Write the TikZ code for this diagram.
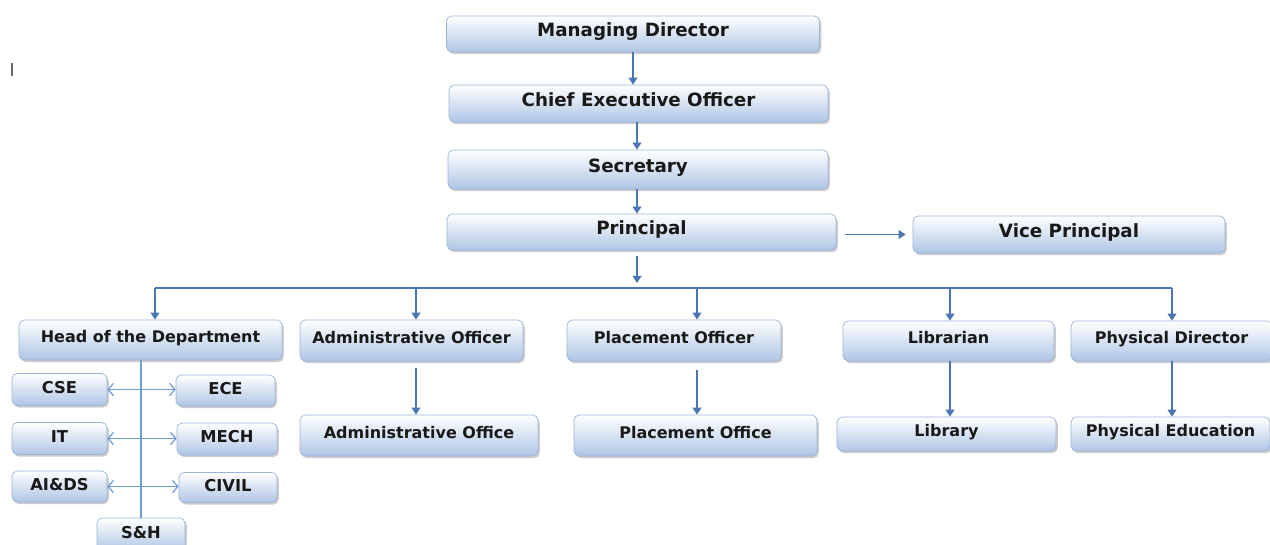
\documentclass[tikz,border=0pt]{standalone}
\usepackage{fontspec}
\setmainfont{DejaVu Sans}
\usetikzlibrary{arrows.meta, shadows, calc}
\definecolor{boxline}{HTML}{9AB5DA}
\definecolor{boxfill}{HTML}{AFC5E5}
\definecolor{linkblue}{HTML}{4A77B4}
\definecolor{barbblue}{HTML}{6F9BD6}
\tikzset{
    rank/.style  = {draw=boxline, rectangle, rounded corners=3pt, top color=white, bottom color=boxfill, text centered, text height=7pt, text depth=3.6pt, font=\fontsize{10.4}{12}\selectfont\bfseries, text=black!90, drop shadow={shadow xshift=1pt, shadow yshift=-1.2pt, fill=black!40}},
    unit/.style  = {rank, font=\fontsize{9.1}{11}\selectfont\bfseries},
    dept/.style  = {rank, minimum width=1.9cm, minimum height=0.64cm, text depth=2.6pt, font=\fontsize{9.3}{11}\selectfont\bfseries},
    link/.style  = {draw=linkblue, line width=0.8pt, -{Triangle[length=4pt, width=5pt]}},
    both/.style  = {draw=barbblue, line width=0.7pt, {Straight Barb[length=3pt, width=7pt]}-{Straight Barb[length=3pt, width=7pt]}},
}

\begin{document}
\begin{tikzpicture}
  \useasboundingbox (0,0) rectangle (25.4,-10.88);
  % stray caret mark
  \draw[black!60, line width=0.6pt] (0.24,-1.25) -- (0.24,-1.51);

  % top of the ladder
  \node [name=md,   rank, minimum width=7.46cm, minimum height=0.72cm] at (12.66,-0.68) {Managing Director};
  \node [name=ceo,  rank, minimum width=7.58cm, minimum height=0.74cm] at (12.77,-2.07) {Chief Executive Officer};
  \node [name=sec,  rank, minimum width=7.60cm, minimum height=0.78cm] at (12.76,-3.39) {Secretary};
  \node [name=prin, rank, minimum width=7.78cm, minimum height=0.72cm] at (12.83,-4.64) {Principal};
  \node [name=vp,   rank, minimum width=6.24cm, minimum height=0.74cm] at (21.38,-4.69) {Vice Principal};

  % officers
  \node [name=hod, unit, minimum width=5.26cm, minimum height=0.80cm] at (3.01,-6.80)  {Head of the Department};
  \node [name=ao,  unit, minimum width=4.46cm, minimum height=0.82cm] at (8.23,-6.81)  {Administrative Officer};
  \node [name=po,  unit, minimum width=4.28cm, minimum height=0.82cm] at (13.48,-6.81) {Placement Officer};
  \node [name=lib, unit, minimum width=4.22cm, minimum height=0.80cm] at (18.97,-6.82) {Librarian};
  \node [name=pd,  unit, minimum width=4.02cm, minimum height=0.80cm] at (23.43,-6.82) {Physical Director};

  % offices
  \node [name=aoff, unit, minimum width=4.76cm, minimum height=0.82cm] at (8.38,-8.71)  {Administrative Office};
  \node [name=poff, unit, minimum width=4.86cm, minimum height=0.82cm] at (13.91,-8.71) {Placement Office};
  \node [name=lbry, unit, minimum width=4.38cm, minimum height=0.68cm] at (18.93,-8.68) {Library};
  \node [name=pe,   unit, minimum width=3.98cm, minimum height=0.68cm] at (23.41,-8.68) {Physical Education};

  % departments
  \node [name=cse,   dept] at (1.19,-7.79) {CSE};
  \node [name=ece,   dept, minimum width=1.98cm, minimum height=0.62cm] at (4.51,-7.81) {ECE};
  \node [name=it,    dept] at (1.19,-8.77) {IT};
  \node [name=mech,  dept, minimum width=2.0cm] at (4.54,-8.78) {MECH};
  \node [name=aids,  dept, minimum height=0.62cm] at (1.19,-9.73) {AI\&DS};
  \node [name=civil, dept, minimum width=1.96cm, minimum height=0.60cm] at (4.56,-9.75) {CIVIL};
  \node [name=sh,    dept, minimum width=1.76cm, minimum height=0.66cm] at (2.82,-10.69) {S\&H};

  % bus under the principal
  \coordinate (bp) at (12.74,-5.76);
  \coordinate (b1) at (3.10,-5.76);
  \coordinate (b2) at (8.32,-5.76);
  \coordinate (b3) at (13.94,-5.76);
  \coordinate (b4) at (19.00,-5.76);
  \coordinate (b5) at (23.44,-5.76);
  \draw [draw=linkblue, line width=0.8pt] (b1) -- (b5);

  \draw [link] (md.south) -- (md.south |- ceo.north);
  \draw [link] (bp |- ceo.south) -- (bp |- sec.north);
  \draw [link] (bp |- sec.south) -- (bp |- prin.north);
  \draw [link, shorten <=3pt] (bp |- prin.south) -- ($(bp)+(0,0.1)$);
  \draw [link, shorten <=5pt, shorten >=4pt] (vp.west -| prin.east) -- (vp.west);

  \foreach \b/\n in {b1/hod, b2/ao, b3/po, b4/lib, b5/pd}
    \draw [link] (\b) -- (\b |- \n.north);

  \draw [link, shorten <=4pt] (b2 |- ao.south) -- (b2 |- aoff.north);
  \draw [link, shorten <=5pt] (b3 |- po.south) -- (b3 |- poff.north);
  \draw [link] (b4 |- lib.south) -- (b4 |- lbry.north);
  \draw [link] (b5 |- pd.south) -- (b5 |- pe.north);

  % department wiring
  \draw [draw=barbblue, line width=0.8pt] (sh.north |- hod.south) -- (sh.north);
  \draw [both] (cse.east) -- (cse.east -| ece.west);
  \draw [both] (it.east) -- (it.east -| mech.west);
  \draw [both] (aids.east) -- (aids.east -| civil.west);
\end{tikzpicture}
\end{document}
